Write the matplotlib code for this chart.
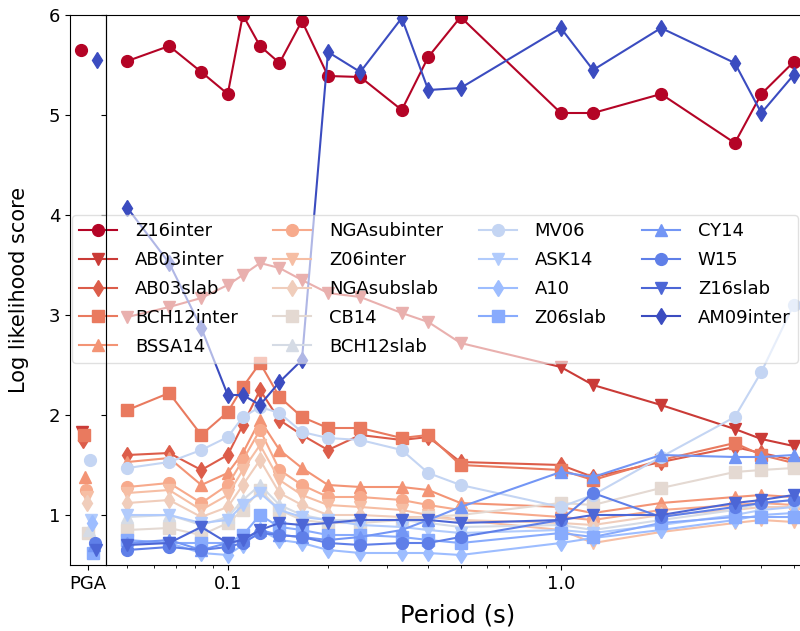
import matplotlib.pyplot as plt
import numpy as np

## spectral periods (s) and model names
periods = [0.05, 0.0667, 0.0833, 0.1, 0.111, 0.125, 0.143, 0.167, 0.2, 0.25,
           0.333, 0.4, 0.5, 1.0, 1.25, 2.0, 3.33, 4.0, 5.0]

models = ['Z16inter', 'AB03inter', 'AB03slab', 'BCH12inter', 'BSSA14',
          'NGAsubinter', 'Z06inter', 'NGAsubslab', 'CB14', 'BCH12slab',
          'MV06', 'ASK14', 'A10', 'Z06slab', 'CY14', 'W15', 'Z16slab',
          'AM09inter']

## LLH score at PGA, same order as models
pga_scores = [5.65, 1.83, 1.75, 1.80, 1.38, 1.25, 1.18, 1.12, 0.82, 0.85,
              1.55, 0.95, 0.92, 0.62, 0.70, 0.72, 0.65, 5.55]

## LLH score per period
z16inter    = [5.54, 5.69, 5.43, 5.21, 6.00, 5.69, 5.52, 5.94, 5.39, 5.38,
               5.05, 5.58, 5.98, 5.02, 5.02, 5.21, 4.72, 5.21, 5.53]
ab03inter   = [2.98, 3.08, 3.17, 3.30, 3.40, 3.52, 3.47, 3.35, 3.22, 3.18,
               3.02, 2.93, 2.72, 2.48, 2.30, 2.10, 1.86, 1.76, 1.69]
ab03slab    = [1.60, 1.62, 1.45, 1.60, 1.90, 2.25, 1.95, 1.80, 1.65, 1.80,
               1.75, 1.78, 1.53, 1.50, 1.38, 1.53, 1.68, 1.62, 1.55]
bch12inter  = [2.05, 2.22, 1.80, 2.03, 2.28, 2.52, 2.18, 1.98, 1.87, 1.87,
               1.77, 1.80, 1.50, 1.45, 1.35, 1.55, 1.72, 1.60, 1.52]
bssa14      = [1.53, 1.57, 1.30, 1.42, 1.62, 1.95, 1.65, 1.47, 1.30, 1.28,
               1.28, 1.25, 1.12, 1.08, 1.02, 1.12, 1.18, 1.20, 1.18]
ngasubinter = [1.28, 1.32, 1.12, 1.30, 1.55, 1.85, 1.45, 1.30, 1.18, 1.18,
               1.15, 1.10, 1.05, 0.98, 0.95, 1.05, 1.10, 1.12, 1.10]
z06inter    = [1.22, 1.25, 1.05, 1.20, 1.45, 1.70, 1.35, 1.20, 1.10, 1.08,
               1.05, 1.00, 0.95, 0.85, 0.72, 0.83, 0.92, 0.95, 0.93]
ngasubslab  = [1.12, 1.15, 0.98, 1.08, 1.30, 1.55, 1.22, 1.10, 1.00, 1.00,
               0.98, 0.98, 0.95, 0.92, 0.90, 1.00, 1.05, 1.08, 1.08]
cb14        = [0.85, 0.87, 0.80, 0.92, 1.05, 1.25, 1.05, 0.95, 0.92, 0.92,
               0.95, 0.98, 1.00, 1.12, 1.10, 1.27, 1.43, 1.45, 1.47]
bch12slab   = [0.98, 1.00, 0.90, 0.98, 1.15, 1.30, 1.10, 1.00, 0.95, 0.95,
               0.95, 0.92, 0.88, 0.90, 0.85, 0.95, 1.05, 1.12, 1.15]
mv06        = [1.47, 1.53, 1.65, 1.78, 1.98, 2.08, 2.02, 1.83, 1.77, 1.75,
               1.65, 1.42, 1.30, 1.08, 1.20, 1.58, 1.98, 2.43, 3.10]
ask14       = [1.00, 1.00, 0.92, 0.95, 1.10, 1.22, 1.05, 0.98, 0.95, 0.90,
               0.88, 0.85, 0.82, 0.85, 0.82, 0.90, 1.00, 1.05, 1.08]
a10         = [0.72, 0.72, 0.62, 0.60, 0.70, 0.85, 0.75, 0.72, 0.65, 0.62,
               0.62, 0.62, 0.60, 0.72, 0.77, 0.85, 0.95, 1.00, 1.02]
z06slab     = [0.75, 0.72, 0.72, 0.72, 0.80, 1.00, 0.88, 0.85, 0.80, 0.80,
               0.78, 0.75, 0.72, 0.82, 0.78, 0.92, 0.98, 0.98, 0.98]
cy14        = [0.72, 0.75, 0.65, 0.72, 0.75, 0.85, 0.80, 0.78, 0.75, 0.78,
               0.85, 0.95, 1.08, 1.43, 1.38, 1.60, 1.58, 1.58, 1.60]
w15         = [0.65, 0.68, 0.65, 0.68, 0.72, 0.82, 0.80, 0.78, 0.72, 0.70,
               0.72, 0.72, 0.78, 0.95, 1.22, 0.98, 1.08, 1.12, 1.15]
z16slab     = [0.70, 0.72, 0.88, 0.72, 0.75, 0.85, 0.92, 0.90, 0.92, 0.95,
               0.95, 0.95, 0.92, 0.95, 1.00, 1.00, 1.12, 1.15, 1.20]
am09inter   = [4.07, 3.52, 2.87, 2.20, 2.20, 2.10, 2.33, 2.55, 5.63, 5.43,
               5.97, 5.25, 5.27, 5.87, 5.45, 5.87, 5.52, 5.02, 5.40]

scores = [z16inter, ab03inter, ab03slab, bch12inter, bssa14, ngasubinter,
          z06inter, ngasubslab, cb14, bch12slab, mv06, ask14, a10, z06slab,
          cy14, w15, z16slab, am09inter]

markers = ['o', 'v', 'd', 's', '^']
colors = plt.cm.coolwarm(np.linspace(1, 0, len(models)))

W, H = 800, 631
fig = plt.figure(figsize=(W/100, H/100), dpi=100)

## narrow PGA panel on the left, spectral periods on the right
ax_pga = fig.add_axes([70/W, 66/H, 36/W, 550/H])
ax = fig.add_axes([106/W, 66/H, 704/W, 550/H], sharey=ax_pga)
ax_pga.set_zorder(ax.get_zorder() + 1)
ax_pga.patch.set_visible(False)

## small horizontal offsets so PGA markers don't sit on top of each other
pga_x = np.linspace(-0.2, 0.25, len(models))

for i, (name, vals) in enumerate(zip(models, scores)):
    mk = markers[i % len(markers)]
    ax.plot(periods, vals, marker=mk, color=colors[i], lw=1.5, ms=8.5,
            label=name)
    ax_pga.plot(pga_x[i], pga_scores[i], marker=mk, color=colors[i], ms=8.5)

ax.set_xscale('log')
ax.set_xlim(0.0431, 5.6)
ax.set_ylim(0.5, 6.0)
ax.set_xticks([0.1, 1.0], labels=['0.1', '1.0'])
ax.tick_params(axis='x', labelsize=13)
ax.tick_params(axis='y', labelleft=False)
ax.set_xlabel('Period (s)', fontsize=17.5, labelpad=8)

ax_pga.set_xlim(-0.5, 0.5)
ax_pga.set_xticks([0], labels=['PGA'])
ax_pga.tick_params(labelsize=13)
ax_pga.set_yticks([1, 2, 3, 4, 5, 6])
ax_pga.set_ylabel('Log likelihood score', fontsize=15, labelpad=14)

ax.legend(ncol=4, loc='upper left', bbox_to_anchor=(63/W, 1 - 206/H),
          bbox_transform=fig.transFigure, fontsize=13, framealpha=0.6,
          columnspacing=1.95, handlelength=2.1, handletextpad=1.0,
          labelspacing=0.6)

fig.savefig('out.png', dpi=100)
